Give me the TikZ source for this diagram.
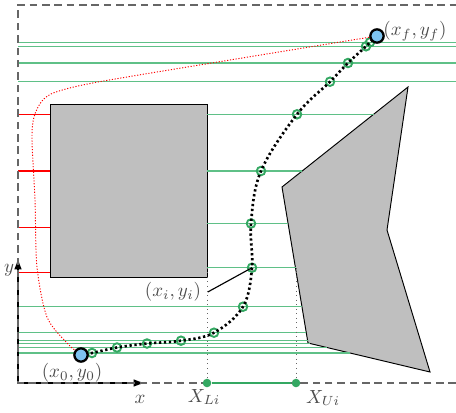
\documentclass[tikz,border=0pt]{standalone}
\usepackage{amsmath,amssymb}
\usetikzlibrary{arrows.meta}
\definecolor{wpgreen}{RGB}{52,168,98}
\definecolor{raygreen}{RGB}{95,192,135}
\definecolor{ptblue}{RGB}{125,195,240}
\definecolor{obsgray}{RGB}{191,191,191}

\begin{document}
\begin{tikzpicture}
    [x=0.0185cm, y=0.0185cm,
    bound/.style={black!60, dash pattern=on 4pt off 2.5pt, line width=0.7pt},
    obstacle/.style={draw=black, fill=obsgray, line width=0.5pt},
    ray/.style={raygreen, line width=0.75pt},
    blocked/.style={red, line width=0.7pt},
    waypt/.style={circle, draw=wpgreen, line width=1pt, inner sep=0pt, minimum size=4.5pt},
    endpt/.style={circle, draw=black, fill=ptblue, line width=1.2pt, inner sep=0pt, minimum size=7pt},
    traj/.style={black, line width=1.4pt, dash pattern=on 1.2pt off 1.4pt},
    redpath/.style={red, line width=0.5pt, dash pattern=on 0.6pt off 0.9pt},
    guide/.style={black!60, line width=0.4pt, dotted},
    seg/.style={wpgreen, line width=1.3pt},
    dot/.style={circle, fill=wpgreen, inner sep=0pt, minimum size=4.5pt},
    lbl/.style={text=black!70},
    axis/.style={-{Latex[length=6pt,width=4pt]}, line width=0.7pt}]
        \useasboundingbox (-18,-29) rectangle (438,383);
        %% obstacles
        \draw[obstacle] (32,106) rectangle (189,279);
        \draw[obstacle] (390,296) -- (264,196) -- (290,40) -- (412,11) -- (369,153) -- cycle;

        %% horizontal rays at each waypoint
        \foreach \ya/\xa/\xb in {30/0/332, 35.5/0/309, 39.5/0/292, 42.3/0/290, 50.3/0/288,
            76.3/0/284, 115.3/189/278, 159.5/189/270, 212/189/284, 268.7/189/356,
            301.3/0/438, 320/0/438, 336.7/0/438, 340.7/0/438}
            \draw[ray] (\xa,\ya) -- (\xb,\ya);
        \foreach \ya in {268.7,212,155.7,110.7}
            \draw[blocked] (0,\ya) -- (32,\ya);

        %% axes and workspace
        \coordinate (o) at (0,0);
        \draw[axis] (o) -- (0,125);
        \draw[axis] (o) -- (127,0);
        \node[lbl] (ylab) at (-9,113) {$y$};
        \node[lbl] (xlab) at (122,-16) {$x$};
        \draw[bound] (438,0) -- (o) -- (0,378) -- (438,378);

        %% waypoints
        \foreach \n/\p in {1/{(74,30)}, 2/{(99,35.5)}, 3/{(129,39.5)}, 4/{(163,42.3)},
            5/{(196,50.3)}, 6/{(225,76.3)}, 7/{(234,115.3)}, 8/{(233,159.5)},
            9/{(243,212)}, 10/{(279,268.7)}, 11/{(312,301.3)}, 12/{(330,320)},
            13/{(348,336.7)}, 14/{(352,340.7)}}
            \node[waypt] (w\n) at \p {};
        \coordinate (s0) at (63,28);
        \coordinate (sf) at (359,347);

        \draw[traj] plot[smooth, tension=0.6] coordinates {(s0) (w1) (w2) (w3) (w4) (w5) (w6)
            (w7) (w8) (w9) (w10) (w11) (w12) (w13) (w14) (sf)};
        \draw[redpath] plot[smooth] coordinates {(s0) (49,40) (29,66) (19,116) (17,183)
            (14,243) (16,266) (24,282) (38,291) (80,301) (212,323) (sf)};

        \node[endpt] (q0) at (s0) {};
        \node[endpt] (qf) at (sf) {};
        \node[lbl] (lb0) at (54,10) {$(x_0,y_0)$};
        \node[lbl] (lbf) at (397,352) {$(x_f,y_f)$};
        \node[lbl] (lbi) at (155,91) {$(x_i,y_i)$};
        \draw[line width=0.6pt] (lbi.east) -- (w7.center);

        %% free interval at y_i
        \node[dot] (dl) at (189,0) {};
        \node[dot] (du) at (278,0) {};
        \draw[guide] (w7 -| dl) -- (dl);
        \draw[guide] (w7 -| du) -- (du);
        \draw[seg] (dl) -- (du);
        \node[lbl] (xl) at (186,-14) {$X_{Li}$};
        \node[lbl] (xu) at (305,-15) {$X_{Ui}$};
    \end{tikzpicture}
\end{document}
